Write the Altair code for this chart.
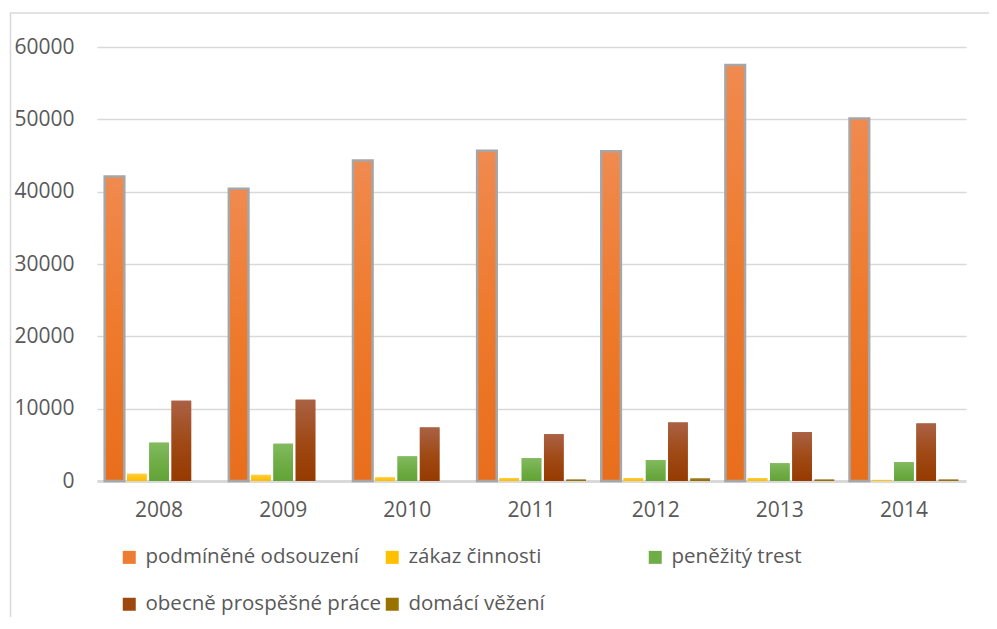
import altair as alt
import pandas as pd

years = ["2008", "2009", "2010", "2011", "2012", "2013", "2014"]
series = ["podmíněné odsouzení", "zákaz činnosti", "peněžitý trest",
          "obecně prospěšné práce", "domácí věžení"]
podminene = [42100, 40400, 44300, 45650, 45600, 57500, 50100]
zakaz = [1000, 850, 500, 400, 400, 400, 150]
penezity = [5300, 5150, 3400, 3150, 2900, 2450, 2600]
obecne = [11100, 11250, 7400, 6450, 8100, 6750, 7950]
domaci = [0, 0, 0, 200, 350, 200, 200]

solid = ["#ED7D31", "#FFC000", "#70AD47", "#9E480E", "#997300"]
grad_stops = [
    ["#F08A4F", "#EE7A2C", "#E86E1C"],
    ["#FFD04A", "#FFC414", "#FFBC00"],
    ["#82BB60", "#70AD47", "#62A335"],
    ["#AA6144", "#A04A16", "#963A00"],
    ["#A8813A", "#9A7410", "#8F6700"],
]

rows = []
for s, vals in zip(series, [podminene, zakaz, penezity, obecne, domaci]):
    for yr, v in zip(years, vals):
        rows.append({"rok": yr, "druh": s, "pocet": v})
df = pd.DataFrame(rows)

FONT = "Open Sans"
TXT = "#595959"
GRID = "#D9D9D9"

x_axis = alt.Axis(labelAngle=0, labelFont=FONT, labelFontSize=21, labelColor=TXT,
                  ticks=False, domainColor=GRID, domainWidth=3, labelPadding=18,
                  grid=False)
y_axis = alt.Axis(values=[0, 10000, 20000, 30000, 40000, 50000, 60000], format="d",
                  labelFont=FONT, labelFontSize=21, labelColor=TXT, ticks=False,
                  domain=False, labelPadding=23, gridColor=GRID, gridWidth=1.5)

x_scale = alt.Scale(paddingInner=0.124, paddingOuter=0.062)
xo_scale = alt.Scale(domain=series, paddingInner=0.12, paddingOuter=0)
y_scale = alt.Scale(domain=[0, 60000], nice=False)

base = alt.Chart(df).mark_bar().encode(
    x=alt.X("rok:N", title=None, scale=x_scale, axis=x_axis),
    xOffset=alt.XOffset("druh:N", sort=series, scale=xo_scale),
    y=alt.Y("pocet:Q", title=None, scale=y_scale, axis=y_axis),
    color=alt.Color("druh:N", sort=series,
                    scale=alt.Scale(domain=series, range=solid),
                    legend=alt.Legend(title=None, orient="none", legendX=22, legendY=500,
                                      direction="horizontal", columns=3, gridAlign="all",
                                      symbolType="square", symbolSize=169,
                                      labelFont=FONT, labelFontSize=20.5, labelColor=TXT,
                                      columnPadding=0, rowPadding=26, padding=0,
                                      labelOffset=6, symbolStrokeWidth=0,
                                      labelLimit=400)),
)

layers = []
frame = alt.Chart(alt.Data(values=[{"a": 1}])).mark_rect(
    filled=False, stroke=GRID, strokeWidth=1.5
).encode(x=alt.value(-86.5), x2=alt.value(910), y=alt.value(-34), y2=alt.value(592))
layers.append(frame)
layers.append(base)

for s, stops in zip(series, grad_stops):
    grad = alt.LinearGradient(
        gradient="linear", x1=0, y1=0, x2=0, y2=1,
        stops=[alt.GradientStop(offset=0, color=stops[0]),
               alt.GradientStop(offset=0.5, color=stops[1]),
               alt.GradientStop(offset=1, color=stops[2])])
    kw = {}
    if s == series[0]:
        kw = {"stroke": "#A6A6A6", "strokeWidth": 2.5}
    lay = alt.Chart(df).transform_filter(alt.datum.druh == s).mark_bar(
        color=grad, **kw
    ).encode(
        x=alt.X("rok:N", title=None, scale=x_scale, axis=x_axis),
        xOffset=alt.XOffset("druh:N", sort=series, scale=xo_scale),
        y=alt.Y("pocet:Q", title=None, scale=y_scale, axis=y_axis),
    )
    layers.append(lay)

chart = alt.layer(*layers).properties(
    width=869, height=434,
    autosize=alt.AutoSizeParams(type="none"),
    padding={"left": 89, "top": 39, "right": 23, "bottom": 136},
    background="white",
).configure_view(stroke=None)

chart.save("out.html", embed_options={"renderer": "svg", "actions": False})
